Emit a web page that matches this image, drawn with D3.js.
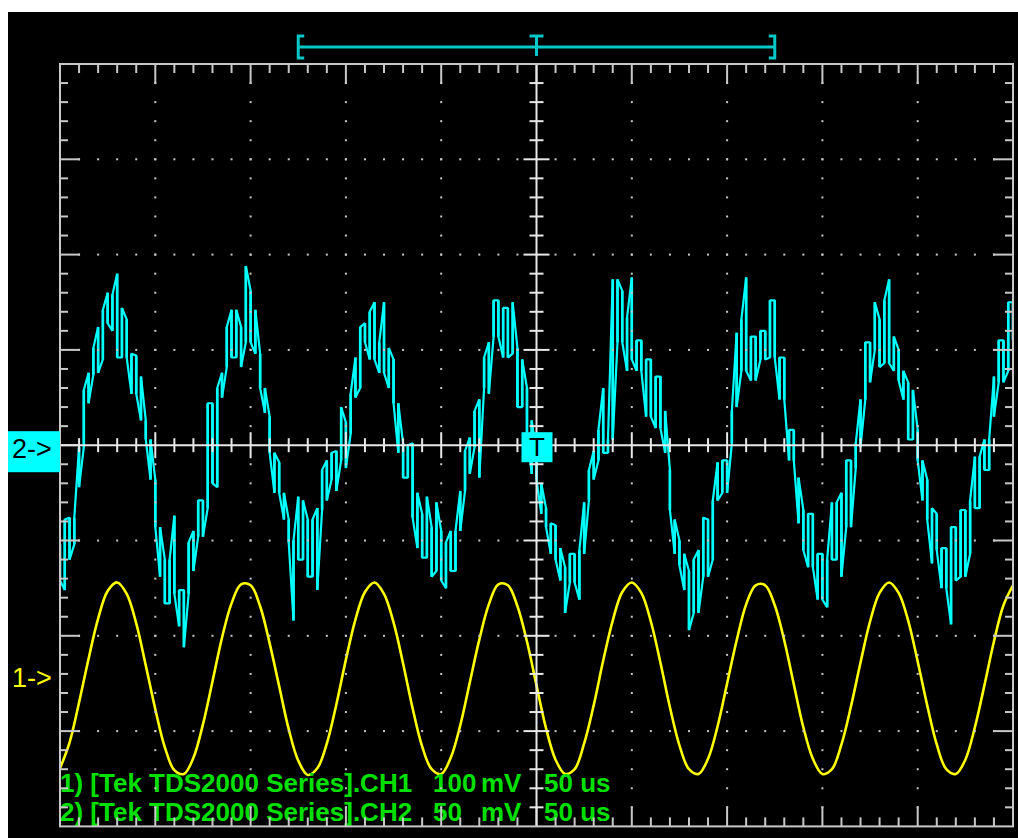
<!DOCTYPE html>
<html><head><meta charset="utf-8">
<script src="https://cdn.jsdelivr.net/npm/d3@7"></script>
<style>html,body{margin:0;padding:0;background:#fff;} svg{display:block;}</style>
</head><body>
<svg id="c" width="1018" height="838"></svg>
<script>
// ---------------- data ----------------
const timePerDivUs = 50;
const ch1MvPerDiv = 100;
const ch2MvPerDiv = 50;
const ch1PositionDiv = -2.43;
const ch2PositionDiv = 0;
const recordWindowUs = [-125, 125];
const triggerTimeUs = 0;

// CH1 samples, every 5 us from -250 us (mV)
const ch1StartUs = -250, ch1StepUs = 5;
const ch1Mv = [-96,-69,-27,19,61,90,99,87,56,12,-34,-74,-98,-102,-85,-50,-5,41,77,97,
  96,74,35,-10,-55,-88,-103,-96,-70,-29,18,60,89,99,87,57,14,-33,-73,-97,
  -102,-85,-51,-6,39,76,97,96,74,37,-9,-54,-87,-102,-97,-70,-30,17,59,89,
  99,88,58,15,-32,-72,-97,-102,-86,-52,-7,38,76,96,96,75,38,-8,-53,-86,
  -102,-97,-71,-31,15,58,88,99,88,59,16,-30,-71,-97,-102,-87,-53,-9,37,75,96];

// CH2 peak-detect samples, every 2.5 us from -250 us: max and min (mV)
const ch2StartUs = -250, ch2StepUs = 2.5;
const ch2MaxMv = [-52,-39,-38,-38,-1,29,38,51,62,71,80,79,90,72,66,48,47,36,13,3,
  -18,-43,-60,-60,-37,-76,-76,-51,-45,-29,-29,22,22,30,38,62,71,71,62,94,
  81,71,48,30,15,-4,-9,-25,-39,-50,-27,-29,-39,-39,-33,-13,-8,-4,-3,20,
  12,27,46,62,64,70,75,54,75,51,45,22,1,0,1,-25,-36,-27,-43,-30,
  -45,-51,-45,-45,-24,-3,4,18,24,46,54,76,76,72,72,75,51,45,30,13,
  -5,-20,-33,-41,-42,-54,-64,-57,-57,-55,-30,-13,-3,8,30,3,87,87,81,67,
  88,55,55,45,45,36,36,18,-13,-39,-50,-57,-66,-60,-55,-38,-39,-29,-9,-8,
  -8,18,59,66,88,57,57,60,60,76,76,46,46,8,8,-17,-34,-36,-36,-57,
  -57,-60,-30,-30,-25,-8,-8,1,24,54,54,75,66,76,87,57,50,39,33,29,
  8,-8,-18,-33,-36,-54,-54,-43,-43,-34,-34,-29,-6,-6,3,3,36,55,55,75,75];
const ch2MinMv = [-71,-76,-60,-52,-22,-1,22,37,38,45,64,60,46,46,46,27,27,13,3,-18,
  -43,-69,-83,-83,-78,-95,-106,-78,-66,-48,-48,-33,-20,-22,25,41,46,46,41,54,
  54,48,30,17,-4,-25,-25,-39,-51,-92,-60,-60,-69,-69,-76,-34,-29,-18,-24,-8,
  -12,6,25,30,54,45,45,38,38,30,22,-4,-17,-17,-38,-54,-59,-59,-69,-66,
  -71,-75,-66,-66,-45,-24,-15,-1,-17,30,27,57,57,46,46,48,20,20,6,-15,
  -18,-36,-43,-57,-60,-71,-88,-72,-72,-81,-57,-29,-18,-8,-4,-4,3,54,54,39,
  45,39,39,15,15,9,9,-4,-34,-57,-63,-76,-97,-88,-88,-69,-69,-60,-29,-25,
  -25,1,20,39,39,34,34,45,45,46,46,24,24,-8,-8,-41,-55,-64,-64,-81,
  -81,-85,-60,-60,-69,-43,-43,-12,-1,24,33,50,41,43,43,39,34,24,3,3,
  -8,-29,-39,-62,-55,-75,-75,-94,-71,-69,-69,-57,-33,-33,-13,-13,15,33,33,39,55];

const legendSources = ["1) [Tek TDS2000 Series].CH1", "2) [Tek TDS2000 Series].CH2"];
const legendScales = ["100", "50"];
const legendUnits = ["mV", "mV"];
const legendTimebase = ["50 us", "50 us"];
const channelMarkers = ["1->", "2->"];

// ---------------- layout ----------------
const svg = d3.select("#c");
const X0 = 60, X1 = 1013, Y0 = 64, Y1 = 826.4;
const divPx = (X1 - X0) / 10;

const x = d3.scaleLinear().domain([-5 * timePerDivUs, 5 * timePerDivUs]).range([X0, X1]);
const yDiv = d3.scaleLinear().domain([-4, 4]).range([Y1, Y0]);
const y1 = d3.scaleLinear()
  .domain([(-4 - ch1PositionDiv) * ch1MvPerDiv, (4 - ch1PositionDiv) * ch1MvPerDiv]).range([Y1, Y0]);
const y2 = d3.scaleLinear()
  .domain([(-4 - ch2PositionDiv) * ch2MvPerDiv, (4 - ch2PositionDiv) * ch2MvPerDiv]).range([Y1, Y0]);

// background
svg.append("rect").attr("x", 8).attr("y", 12).attr("width", 1010).attr("height", 826).attr("fill", "#000");

svg.append("defs").append("clipPath").attr("id", "plot")
  .append("rect").attr("x", X0).attr("y", Y0).attr("width", X1 - X0).attr("height", Y1 - Y0);

// traces
const ch2Env = ch2MaxMv.map((hi, i) => ({t: ch2StartUs + i * ch2StepUs, hi, lo: ch2MinMv[i]}));
const ch2Pts = [];
ch2Env.forEach((d, i) => {
  if (i % 2 === 0) { ch2Pts.push({t: d.t, v: d.hi}); ch2Pts.push({t: d.t, v: d.lo}); }
  else { ch2Pts.push({t: d.t, v: d.lo}); ch2Pts.push({t: d.t, v: d.hi}); }
});
const ch1Data = ch1Mv.map((v, i) => ({t: ch1StartUs + i * ch1StepUs, v}));
const traces = svg.append("g").attr("clip-path", "url(#plot)");
traces.selectAll("rect.col").data(ch2Env).enter().append("rect").attr("class", "col")
  .attr("x", d => x(d.t) - 1.3).attr("width", 2.6)
  .attr("y", d => y2(d.hi)).attr("height", d => y2(d.lo) - y2(d.hi))
  .attr("fill", "#00ffff");
traces.append("path").datum(ch2Pts)
  .attr("d", d3.line().x(d => x(d.t)).y(d => y2(d.v)))
  .attr("fill", "none").attr("stroke", "#00ffff").attr("stroke-width", 2.2).attr("stroke-linejoin", "bevel");
traces.append("path").datum(ch1Data)
  .attr("d", d3.line().x(d => x(d.t)).y(d => y1(d.v)).curve(d3.curveCatmullRom.alpha(0.5)))
  .attr("fill", "none").attr("stroke", "#ffff00").attr("stroke-width", 2.6);

// legend text
const leg = svg.append("g").attr("fill", "#00e000")
  .style("font-family", "'Liberation Sans', Arial, sans-serif").style("font-weight", "bold").style("font-size", "26px");
legendSources.forEach((s, i) => {
  const by = 792 + i * 29;
  leg.append("text").attr("x", 60).attr("y", by).text(s);
  leg.append("text").attr("x", 433).attr("y", by).text(legendScales[i]);
  leg.append("text").attr("x", 481).attr("y", by).text(legendUnits[i]);
  leg.append("text").attr("x", 544).attr("y", by).text(legendTimebase[i]);
});

// graticule
const g = svg.append("g");
const gridCol = "#c8c8c8", crossCol = "#e8e8e8";
const minor = divPx / 5;
const xc = x(0), yc = yDiv(0);
function seg(x1, y1_, x2, y2_, col, w) {
  g.append("line").attr("x1", x1).attr("y1", y1_).attr("x2", x2).attr("y2", y2_)
    .attr("stroke", col).attr("stroke-width", w);
}
const dots = [];
for (let i = 1; i < 10; i++) {
  if (i === 5) continue;
  for (let j = 1; j < 40; j++) dots.push([X0 + i * divPx, Y0 + j * minor]);
}
for (let j = 1; j < 8; j++) {
  if (j === 4) continue;
  for (let i = 1; i < 50; i++) dots.push([X0 + i * minor, Y0 + j * divPx]);
}
g.selectAll("rect.dot").data(dots).enter().append("rect").attr("class", "dot")
  .attr("x", d => d[0] - 1).attr("y", d => d[1] - 1).attr("width", 2).attr("height", 2).attr("fill", gridCol);
for (let i = 1; i < 50; i++) {
  const xi = X0 + i * minor, L = i % 5 === 0 ? 20 : 9;
  seg(xi, Y0, xi, Y0 + L, gridCol, 2);
  seg(xi, Y1, xi, Y1 - L, gridCol, 2);
  const h = i % 5 === 0 ? 13 : 7;
  seg(xi, yc - h, xi, yc + h, crossCol, 2);
}
for (let j = 1; j < 40; j++) {
  const yj = Y0 + j * minor, L = j % 5 === 0 ? 20 : 8;
  seg(X0, yj, X0 + L, yj, gridCol, 2);
  seg(X1, yj, X1 - L, yj, gridCol, 2);
  const h = j % 5 === 0 ? 13 : 7;
  seg(xc - h, yj, xc + h, yj, crossCol, 2);
}
seg(X0, yc, X1, yc, crossCol, 2);
seg(xc, Y0, xc, Y1, crossCol, 2);
g.append("rect").attr("x", X0).attr("y", Y0).attr("width", X1 - X0).attr("height", Y1 - Y0)
  .attr("fill", "none").attr("stroke", gridCol).attr("stroke-width", 2);

// record window bar
const teal = "#00c8c8";
const bl = x(recordWindowUs[0]), br = x(recordWindowUs[1]);
const m = svg.append("g").attr("stroke", teal).attr("fill", "none");
m.append("line").attr("x1", bl).attr("y1", 47).attr("x2", br).attr("y2", 47).attr("stroke-width", 3);
m.append("path").attr("d", `M${bl + 6},36 H${bl} V58 H${bl + 6}`).attr("stroke-width", 3);
m.append("path").attr("d", `M${br - 6},36 H${br} V58 H${br - 6}`).attr("stroke-width", 3);
const tx = x(triggerTimeUs);
m.append("path").attr("d", `M${tx - 7},36 H${tx + 7} M${tx},36 V56`).attr("stroke-width", 3);

// trigger box
svg.append("rect").attr("x", tx - 15).attr("y", yc - 13).attr("width", 31).attr("height", 30).attr("fill", "#00ffff");
svg.append("text").attr("x", tx + 0.5).attr("y", yc + 11).attr("text-anchor", "middle")
  .style("font-family", "'Liberation Sans', Arial, sans-serif").style("font-size", "26px").attr("fill", "#000").text("T");

// channel markers
const mk = svg.append("g").style("font-family", "'Liberation Sans', Arial, sans-serif").style("font-size", "27px");
mk.append("rect").attr("x", 8).attr("y", y2(0) - 14).attr("width", X0 - 8).attr("height", 41).attr("fill", "#00ffff");
mk.append("text").attr("x", 12).attr("y", y2(0) + 13).attr("fill", "#000").text(channelMarkers[1]);
mk.append("text").attr("x", 12).attr("y", y1(0) + 10).attr("fill", "#ffff00").text(channelMarkers[0]);
</script>
</body></html>
